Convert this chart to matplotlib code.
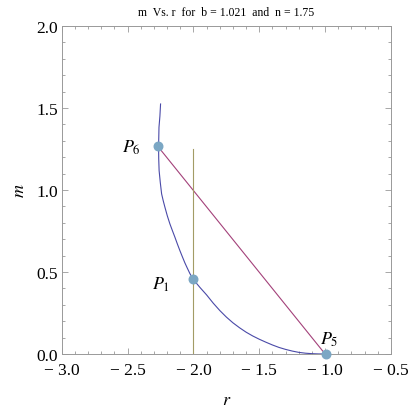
import matplotlib
matplotlib.use("Agg")
import matplotlib.pyplot as plt
from matplotlib.ticker import MultipleLocator, FuncFormatter

# curve m(r)
curve_r = [-2.250, -2.255, -2.262, -2.265, -2.264, -2.261, -2.252, -2.242, -2.230,
           -2.217, -2.199, -2.179, -2.160, -2.141, -2.122, -2.103, -2.084,
           -2.065, -2.046, -2.027, -2.0, -1.95, -1.9, -1.85, -1.8, -1.75,
           -1.7, -1.65, -1.6, -1.55, -1.5, -1.45, -1.4, -1.35, -1.3, -1.25,
           -1.2, -1.15, -1.1, -1.05, -1.0]
curve_m = [1.524, 1.45, 1.382, 1.264, 1.19, 1.118, 1.045, 0.976, 0.935,
           0.895, 0.843, 0.793, 0.752, 0.712, 0.670, 0.630, 0.592,
           0.555, 0.522, 0.490, 0.453, 0.405, 0.360, 0.31, 0.265, 0.225,
           0.19, 0.16, 0.133, 0.11, 0.09, 0.072, 0.055, 0.04, 0.028, 0.018,
           0.01, 0.005, 0.002, 0.0005, 0.0]

# chord P6 -> P5
chord_r = [-2.27, -1.0]
chord_m = [1.265, 0.0]

# vertical guide at r = -2
guide_r = [-2.0, -2.0]
guide_m = [0.0, 1.25]

point_names = ["P_6", "P_1", "P_5"]
point_r = [-2.27, -2.0, -0.995]
point_m = [1.265, 0.455, 0.0]

BLUE = "#4a4aa8"
MAGENTA = "#a3417a"
OLIVE = "#a39c66"
DOT = "#7ba7c4"
FRAME = "#999999"

plt.rcParams.update({
    "font.family": "Liberation Serif",
    "mathtext.fontset": "stix",
})

fig = plt.figure(figsize=(4.15, 4.14), dpi=100)
ax = fig.add_axes([0.149, 0.1425, 0.793, 0.7925])

ax.plot(curve_r, curve_m, color=BLUE, linewidth=0.8)
ax.plot(chord_r, chord_m, color=MAGENTA, linewidth=0.8)
ax.plot(guide_r, guide_m, color=OLIVE, linewidth=0.8)
ax.scatter(point_r, point_m, s=38, color=DOT, zorder=5, clip_on=False)

offsets = {"P_6": (-0.2, 0.0), "P_1": (-0.25, -0.03), "P_5": (0.03, 0.09)}
for name, r, m in zip(point_names, point_r, point_m):
    dx, dy = offsets[name]
    ax.text(r + dx, m + dy, "$" + name + "$", fontsize=13,
            ha="center", va="center")

ax.set_xlim(-3.0, -0.5)
ax.set_ylim(0.0, 2.0)

ax.xaxis.set_major_locator(MultipleLocator(0.5))
ax.xaxis.set_minor_locator(MultipleLocator(0.1))
ax.yaxis.set_major_locator(MultipleLocator(0.5))
ax.yaxis.set_minor_locator(MultipleLocator(0.1))

fmt = FuncFormatter(lambda v, p: ("\u2212 %.1f" % -v) if v < -1e-9 else "%.1f" % v)
ax.xaxis.set_major_formatter(fmt)
ax.yaxis.set_major_formatter(fmt)

ax.tick_params(which="both", direction="in", top=True, right=True,
               color=FRAME, width=0.6, labelsize=12.5)
ax.tick_params(axis="x", pad=6)
ax.tick_params(axis="y", pad=3)
ax.tick_params(which="major", length=4)
ax.tick_params(which="minor", length=2)
for s in ax.spines.values():
    s.set_color(FRAME)
    s.set_linewidth(0.7)

ax.set_xlabel("$r$", fontsize=13, labelpad=9)
ax.set_ylabel("$m$", fontsize=13, labelpad=6)
ax.set_title("m  Vs. r  for  b = 1.021  and  n = 1.75", fontsize=8.5, pad=8)

fig.savefig("out.png", dpi=100)
